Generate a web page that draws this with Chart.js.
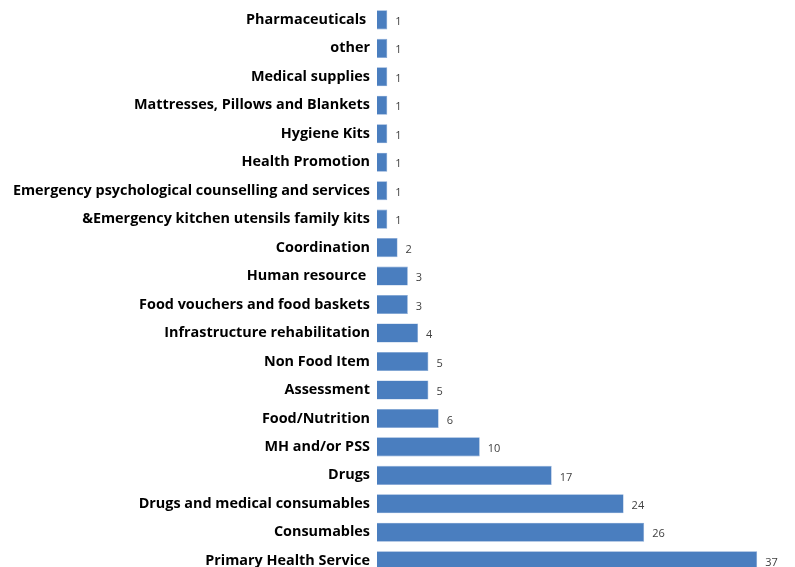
<!DOCTYPE html>
<html>
<head>
<meta charset="utf-8">
<script src="https://cdn.jsdelivr.net/npm/chart.js@4/dist/chart.umd.min.js"></script>
<style>
html,body{margin:0;padding:0;background:#fff;overflow:hidden;width:795px;height:567px;}
#wrap{position:absolute;left:0;top:-10px;width:795px;height:610px;}
</style>
</head>
<body>
<div id="wrap"><canvas id="c" width="795" height="610"></canvas></div>
<script>
const categories = [
  "Pharmaceuticals ",
  "other",
  "Medical supplies",
  "Mattresses, Pillows and Blankets",
  "Hygiene Kits",
  "Health Promotion",
  "Emergency psychological counselling and services",
  "&Emergency kitchen utensils family kits",
  "Coordination",
  "Human resource ",
  "Food vouchers and food baskets",
  "Infrastructure rehabilitation",
  "Non Food Item",
  "Assessment",
  "Food/Nutrition",
  "MH and/or PSS",
  "Drugs",
  "Drugs and medical consumables",
  "Consumables",
  "Primary Health Service"
];
const values = [1,1,1,1,1,1,1,1,2,3,3,4,5,5,6,10,17,24,26,37];

const valueLabels = {
  id: 'valueLabels',
  afterDatasetsDraw(chart) {
    const ctx = chart.ctx;
    const meta = chart.getDatasetMeta(0);
    ctx.save();
    ctx.font = '11px "Open Sans", sans-serif';
    ctx.fillStyle = '#404040';
    ctx.textAlign = 'left';
    ctx.textBaseline = 'middle';
    meta.data.forEach((bar, i) => {
      ctx.fillText(String(values[i]), bar.x + 8, bar.y + 2);
    });
    ctx.restore();
  }
};

new Chart(document.getElementById('c'), {
  type: 'bar',
  data: {
    labels: categories,
    datasets: [{
      data: values,
      backgroundColor: '#4a7ebf',
      borderColor: '#7fa3d3',
      borderWidth: 0.6,
      barPercentage: 0.67,
      categoryPercentage: 1.0
    }]
  },
  options: {
    indexAxis: 'y',
    responsive: false,
    animation: false,
    layout: { padding: { top: 5, bottom: 25, left: 0, right: 7 } },
    plugins: { legend: { display: false }, tooltip: { enabled: false } },
    scales: {
      x: {
        display: false,
        min: 0,
        max: 40
      },
      y: {
        grid: { display: false, drawTicks: false },
        border: { display: false },
        afterFit(scale) { scale.width = 377; },
        ticks: {
          autoSkip: false,
          padding: 7,
          color: '#000000',
          font: { family: 'Open Sans', weight: 'bold', size: 14.4 }
        }
      }
    }
  },
  plugins: [valueLabels]
});
</script>
</body>
</html>
